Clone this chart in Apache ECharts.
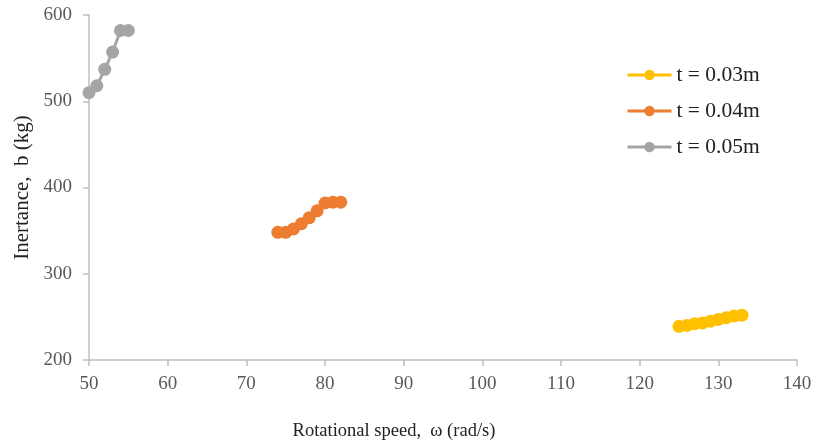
<!DOCTYPE html>
<html><head><meta charset="utf-8">
<script src="https://cdn.jsdelivr.net/npm/echarts@6/dist/echarts.min.js"></script>
<style>html,body{margin:0;padding:0;background:#fff}#c{width:816px;height:446px}</style>
</head><body><div id="c"></div>
<script>
const seriesNames = ['t = 0.03m', 't = 0.04m', 't = 0.05m'];
const x003 = [125, 126, 127, 128, 129, 130, 131, 132, 133];
const y003 = [239, 240, 242, 243, 245, 247, 249, 251, 252];
const x004 = [74, 75, 76, 77, 78, 79, 80, 81, 82];
const y004 = [348, 348, 352, 358, 365, 373, 382, 383, 383];
const x005 = [50, 51, 52, 53, 54, 55];
const y005 = [510, 518, 537, 557, 582, 582];
const colors = ['#FFC000', '#ED7D31', '#A5A5A5'];

const pairs = (xs, ys) => xs.map((x, i) => [x, ys[i]]);
const font = 'Liberation Serif';
const chart = echarts.init(document.getElementById('c'));
chart.setOption({
  animation: false,
  grid: {left: 89, right: 19, top: 15, bottom: 86},
  legend: {
    orient: 'vertical', left: 626, top: 64, itemGap: 14, padding: 0,
    itemWidth: 44, itemHeight: 13,
    lineStyle: {width: 3},
    textStyle: {fontFamily: font, fontSize: 21.5, color: '#222'},
    data: seriesNames
  },
  xAxis: {
    type: 'value', min: 50, max: 140, interval: 10,
    name: 'Rotational speed,  ω (rad/s)', nameLocation: 'middle', nameGap: 62,
    nameTextStyle: {fontFamily: font, fontSize: 18.5, color: '#222', padding: [0, 98, 0, 0]},
    axisLine: {lineStyle: {color: '#BFBFBF', width: 1.5}},
    axisTick: {show: true, length: 6, lineStyle: {color: '#BFBFBF', width: 1.5}},
    axisLabel: {fontFamily: font, fontSize: 19, color: '#595959', margin: 15},
    splitLine: {show: false}
  },
  yAxis: {
    type: 'value', min: 200, max: 600, interval: 100,
    name: 'Inertance,  b (kg)', nameLocation: 'middle', nameGap: 56,
    nameTextStyle: {fontFamily: font, fontSize: 21, color: '#222'},
    axisLine: {show: true, lineStyle: {color: '#BFBFBF', width: 1.5}},
    axisTick: {show: true, length: 6, lineStyle: {color: '#BFBFBF', width: 1.5}},
    axisLabel: {fontFamily: font, fontSize: 19, color: '#595959', margin: 17},
    splitLine: {show: false}
  },
  series: [
    [x003, y003], [x004, y004], [x005, y005]
  ].map((d, i) => ({
    name: seriesNames[i], type: 'line', data: pairs(d[0], d[1]),
    symbol: 'circle', symbolSize: 13,
    lineStyle: {color: colors[i], width: 3},
    itemStyle: {color: colors[i]}
  }))
});
</script></body></html>
